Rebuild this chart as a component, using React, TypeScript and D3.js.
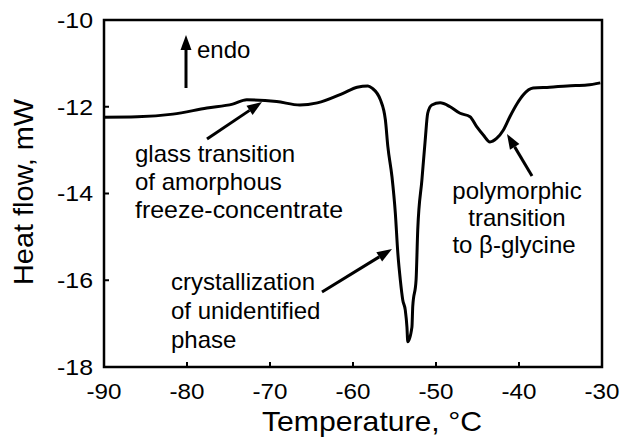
import React from "react";
import * as d3 from "d3";

const temps = [-90, -86.0, -81.7, -77.6, -74.5, -72.8, -69.2, -66.4, -64.3, -61.2, -59.5, -58.2, -57.7, -56.7, -56.1, -55.8, -55.3, -54.9, -54.6, -54.3, -54.0, -53.7, -53.5, -53.4, -52.9, -52.8, -52.4, -52.2, -51.7, -51.3, -51.0, -50.5, -49.5, -48.3, -47.1, -45.9, -45.1, -44.3, -43.5, -42.7, -41.9, -41.1, -40.2, -39.5, -38.3, -36.3, -34.2, -31.8, -30.2];
const heatFlow = [-12.24, -12.23, -12.17, -12.03, -11.94, -11.84, -11.88, -11.96, -11.91, -11.69, -11.55, -11.52, -11.57, -11.84, -12.3, -12.92, -13.62, -14.45, -15.37, -15.99, -16.46, -16.69, -17.08, -17.42, -17.08, -16.6, -15.99, -14.84, -13.69, -12.77, -12.15, -11.96, -11.91, -12.0, -12.15, -12.23, -12.46, -12.65, -12.81, -12.73, -12.54, -12.23, -11.92, -11.73, -11.57, -11.55, -11.52, -11.5, -11.45];
const xTicks = [-90, -80, -70, -60, -50, -40, -30];
const yTicks = [-10, -12, -14, -16, -18];

const W = 622, H = 442;
const left = 104, right = 602, top = 20, bottom = 367;
const font = "'Liberation Sans', Arial, Helvetica, sans-serif";

export default function App() {
  const x = d3.scaleLinear().domain([-90, -30]).range([left, right]);
  const y = d3.scaleLinear().domain([-18, -10]).range([bottom, top]);
  const pts = temps.map((t, i) => [t, heatFlow[i]] as [number, number]);
  const line = d3.line<[number, number]>().x(d => x(d[0])).y(d => y(d[1])).curve(d3.curveMonotoneX);
  const path = line(pts) || "";

  const arrow = (x1: number, y1: number, x2: number, y2: number, key: string) => {
    const ang = Math.atan2(y2 - y1, x2 - x1);
    const len = 15, hw = 5.5;
    const bx = x2 - len * Math.cos(ang), by = y2 - len * Math.sin(ang);
    const px = -Math.sin(ang) * hw, py = Math.cos(ang) * hw;
    return (
      <g key={key}>
        <line x1={x1} y1={y1} x2={bx} y2={by} stroke="#000" strokeWidth={3} />
        <polygon points={`${x2},${y2} ${bx + px},${by + py} ${bx - px},${by - py}`} fill="#000" />
      </g>
    );
  };

  return (
    <svg width={W} height={H} style={{ position: "absolute", left: 0, top: 0, background: "#fff" }} fontFamily={font}>
      <rect x={0} y={0} width={W} height={H} fill="#fff" />
      {xTicks.map(t => (
        <g key={"x" + t}>
          <line x1={x(t)} x2={x(t)} y1={bottom} y2={bottom - 5} stroke="#000" strokeWidth={2} />
          <text x={x(t)} y={399} fontSize={22} textAnchor="middle" textLength={35} lengthAdjust="spacingAndGlyphs">{t}</text>
        </g>
      ))}
      {yTicks.map(v => (
        <g key={"y" + v}>
          <line x1={left} x2={left + 5} y1={y(v)} y2={y(v)} stroke="#000" strokeWidth={2} />
          <text x={93} y={y(v)} dy="0.36em" fontSize={22} textAnchor="end" textLength={36} lengthAdjust="spacingAndGlyphs">{v}</text>
        </g>
      ))}
      <rect x={left} y={top} width={right - left} height={bottom - top} fill="none" stroke="#000" strokeWidth={2.5} />
      <path d={path} fill="none" stroke="#000" strokeWidth={3} strokeLinejoin="round" />

      <text x={372} y={431} fontSize={28} textAnchor="middle" textLength={220} lengthAdjust="spacingAndGlyphs">Temperature, °C</text>
      <text transform={`translate(33,192) rotate(-90)`} fontSize={28} textAnchor="middle" textLength={186} lengthAdjust="spacingAndGlyphs">Heat flow, mW</text>

      {arrow(186, 88, 186, 35, "endo")}
      <text x={197} y={58} fontSize={24}>endo</text>

      {arrow(207, 139, 262, 102, "glass")}
      <g fontSize={24}>
        <text x={135} y={162}>glass transition</text>
        <text x={135} y={190}>of amorphous</text>
        <text x={135} y={218} textLength={208} lengthAdjust="spacingAndGlyphs">freeze-concentrate</text>
      </g>

      {arrow(322, 292, 392, 249, "cryst")}
      <g fontSize={24}>
        <text x={171} y={290}>crystallization</text>
        <text x={171} y={319}>of unidentified</text>
        <text x={171} y={348}>phase</text>
      </g>

      {arrow(532, 176, 507, 134, "poly")}
      <g fontSize={24} textAnchor="middle">
        <text x={517} y={199}>polymorphic</text>
        <text x={517} y={226}>transition</text>
        <text x={514} y={253}>to β-glycine</text>
      </g>
    </svg>
  );
}
